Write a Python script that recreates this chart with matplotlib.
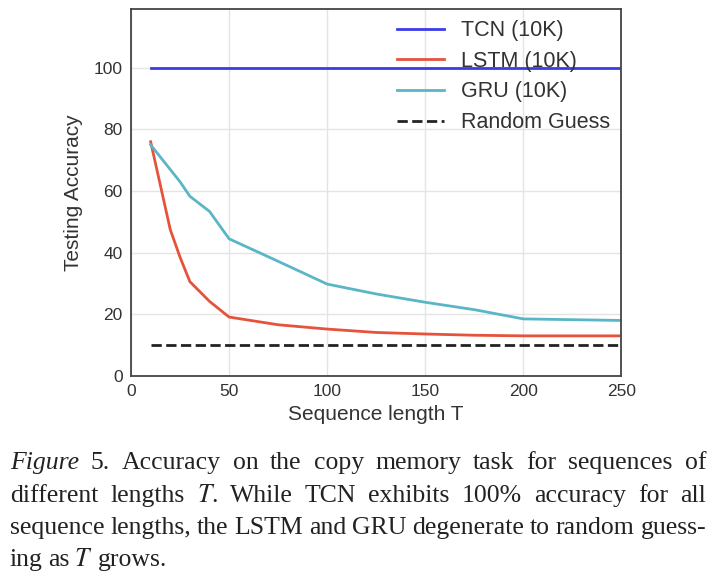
import matplotlib.pyplot as plt

# data
seq_len = [10, 20, 25, 30, 40, 50, 75, 100, 125, 150, 175, 200, 250]
lstm_acc = [76, 47.5, 38.5, 30.6, 24.2, 19.1, 16.6, 15.2, 14.1, 13.6, 13.2, 13.0, 13.0]
gru_acc = [75, 67, 63, 58.3, 53.4, 44.5, 37.2, 29.8, 26.6, 23.9, 21.5, 18.5, 18.0]
tcn_acc = [100] * len(seq_len)
random_acc = [10] * len(seq_len)

caption_lines = [
    "Figure 5. Accuracy on the copy memory task for sequences of",
    "different lengths $T$.  While TCN exhibits 100% accuracy for all",
    "sequence lengths, the LSTM and GRU degenerate to random guess-",
    "ing as $T$ grows.",
]

plt.rcParams['font.family'] = ['Liberation Sans', 'DejaVu Sans']
plt.rcParams['mathtext.fontset'] = 'stix'

fig = plt.figure(figsize=(7.2, 5.81), dpi=100)
ax = fig.add_axes([0.182, 0.353, 0.681, 0.631])

ax.plot(seq_len, tcn_acc, color='#3b3be8', lw=2, label='TCN (10K)')
ax.plot(seq_len, lstm_acc, color='#e5533c', lw=2, label='LSTM (10K)')
ax.plot(seq_len, gru_acc, color='#5ab6c6', lw=2, label='GRU (10K)')
ax.plot(seq_len, random_acc, color='#222222', lw=2, ls='--', label='Random Guess')

ax.set_xlim(0, 250)
ax.set_ylim(0, 119)
ax.set_xticks([0, 50, 100, 150, 200, 250])
ax.set_yticks([0, 20, 40, 60, 80, 100])
ax.grid(color='#e4e4e4', lw=1)
ax.set_axisbelow(True)
for s in ax.spines.values():
    s.set_color('#444444')
    s.set_linewidth(1.3)
ax.tick_params(labelsize=12.5, colors='#333333', length=0, pad=6)
ax.set_xlabel('Sequence length T', fontsize=15, color='#333333', labelpad=4)
ax.set_ylabel('Testing Accuracy', fontsize=15, color='#333333', labelpad=8)

leg = ax.legend(loc='upper right', frameon=False, fontsize=15.5, handlelength=2.2,
                labelspacing=0.45, borderaxespad=0.1, handletextpad=0.8,
                bbox_to_anchor=(1.0, 1.0))
for t in leg.get_texts():
    t.set_color('#333333')

# caption, justified like the paper
left_px, right_px = 10, 706
ys = [463, 496, 528, 560]
renderer = fig.canvas.get_renderer()
for i, (line, y) in enumerate(zip(caption_lines, ys)):
    words = line.split()
    texts = []
    for j, w in enumerate(words):
        italic = (i == 0 and j == 0)
        t = fig.text(0, 1 - y / 581, w, fontsize=18.5, family='Liberation Serif',
                     style='italic' if italic else 'normal', va='center', color='#222222')
        texts.append(t)
    widths = [t.get_window_extent(renderer).width for t in texts]
    if i < len(caption_lines) - 1:
        gap = (right_px - left_px - sum(widths)) / (len(words) - 1)
    else:
        gap = 5
    x = left_px
    for t, wd in zip(texts, widths):
        t.set_x(x / 720)
        x += wd + gap

fig.savefig('out.png', dpi=100)
